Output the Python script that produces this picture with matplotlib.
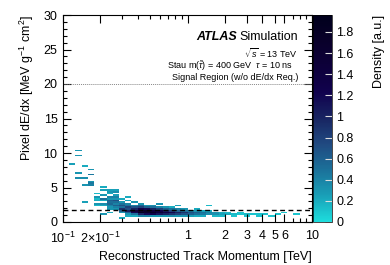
import numpy as np
import matplotlib
matplotlib.use("Agg")
import matplotlib.pyplot as plt
from matplotlib.colors import LinearSegmentedColormap
from matplotlib.ticker import FixedLocator, NullFormatter

plt.rcParams['font.family'] = ['Liberation Sans', 'DejaVu Sans']
plt.rcParams['mathtext.fontset'] = 'custom'
plt.rcParams['mathtext.rm'] = 'Liberation Sans'
plt.rcParams['mathtext.it'] = 'Liberation Sans:italic'

# ---- data: occupied cells of the 2D histogram (momentum [TeV], dE/dx, density) ----
cell_p = [
    0.119,
    0.133, 0.133, 0.133, 0.133,
    0.150, 0.150, 0.150, 0.150,
    0.168, 0.168, 0.168, 0.168, 0.168,
    0.188, 0.188, 0.188, 0.188, 0.188, 0.188,
    0.211, 0.211, 0.211, 0.211, 0.211, 0.211, 0.211, 0.211,
    0.237, 0.237, 0.237, 0.237, 0.237, 0.237, 0.237, 0.237, 0.237, 0.237, 0.237, 0.237,
    0.266, 0.266, 0.266, 0.266, 0.266, 0.266, 0.266, 0.266, 0.266, 0.266, 0.266,
    0.299, 0.299, 0.299, 0.299, 0.299, 0.299, 0.299, 0.299, 0.299,
    0.335, 0.335, 0.335, 0.335, 0.335, 0.335, 0.335, 0.335, 0.335, 0.335,
    0.376, 0.376, 0.376, 0.376, 0.376, 0.376, 0.376, 0.376,
    0.422, 0.422, 0.422, 0.422, 0.422, 0.422, 0.422, 0.422,
    0.473, 0.473, 0.473, 0.473, 0.473, 0.473, 0.473,
    0.531, 0.531, 0.531, 0.531, 0.531, 0.531, 0.531,
    0.596, 0.596, 0.596, 0.596, 0.596, 0.596, 0.596,
    0.668, 0.668, 0.668, 0.668, 0.668, 0.668,
    0.750, 0.750, 0.750, 0.750, 0.750, 0.750,
    0.841, 0.841, 0.841, 0.841, 0.841, 0.841,
    0.944, 0.944, 0.944, 0.944, 0.944,
    1.059, 1.059, 1.059, 1.059,
    1.189, 1.189, 1.189, 1.189, 1.189,
    1.334, 1.334, 1.334, 1.334,
    1.496, 1.496, 1.496, 1.496,
    1.679, 1.679, 1.679,
    1.884, 1.884, 1.884,
    2.11, 2.11,
    2.37, 2.37,
    2.66, 2.66,
    2.99, 2.99,
    3.35,
    3.76, 3.76,
    4.22,
    4.73,
    5.31,
    5.96,
    7.50,
]
cell_dedx = [
    8.25,
    10.4, 9.6, 7.15, 6.4,
    8.0, 6.3, 5.3, 2.9,
    7.6, 6.9, 5.9, 5.55, 5.3,
    4.0, 3.6, 3.35, 3.1, 2.6, 2.35,
    5.1, 4.6, 3.85, 3.35, 3.1, 2.6, 2.35, 1.1,
    4.6, 4.35, 4.1, 3.6, 3.35, 3.1, 2.85, 2.6, 2.35, 2.1, 1.85, 1.35,
    4.6, 4.35, 3.85, 3.6, 3.35, 3.1, 2.85, 2.6, 2.35, 2.1, 1.85,
    3.35, 2.85, 2.6, 2.35, 2.1, 1.85, 1.6, 1.35, 0.6,
    3.6, 3.1, 2.6, 2.35, 2.1, 1.85, 1.6, 1.35, 1.1, 0.85,
    2.85, 2.35, 2.1, 1.85, 1.6, 1.35, 1.1, 0.85,
    2.6, 2.35, 2.1, 1.85, 1.6, 1.35, 1.1, 0.85,
    2.35, 2.1, 1.85, 1.6, 1.35, 1.1, 0.85,
    2.35, 2.1, 1.85, 1.6, 1.35, 1.1, 0.85,
    2.6, 2.1, 1.85, 1.6, 1.35, 1.1, 0.85,
    2.1, 1.85, 1.6, 1.35, 1.1, 0.85,
    2.1, 1.85, 1.6, 1.35, 1.1, 0.85,
    2.35, 1.85, 1.6, 1.35, 1.1, 0.85,
    1.85, 1.6, 1.35, 1.1, 0.85,
    1.6, 1.35, 1.1, 0.85,
    1.85, 1.6, 1.35, 1.1, 0.85,
    1.6, 1.35, 1.1, 0.85,
    2.35, 1.6, 1.35, 1.1,
    1.35, 1.1, 0.85,
    1.35, 1.1, 0.85,
    1.35, 1.1,
    1.1, 0.85,
    1.35, 1.1,
    1.1, 0.85,
    1.1,
    0.85, 1.1,
    1.1,
    0.85,
    1.1,
    1.35,
    1.1,
]
cell_density = [
    0.25,
    0.30, 0.30, 0.30, 0.35,
    0.20, 0.35, 0.30, 0.25,
    0.30, 0.45, 0.30, 0.45, 0.40,
    0.15, 0.30, 0.15, 0.20, 0.30, 0.15,
    0.20, 0.25, 0.30, 0.50, 0.20, 0.35, 0.20, 0.30,
    0.25, 0.30, 0.20, 0.40, 0.30, 0.60, 0.50, 0.55, 0.40, 0.30, 0.30, 0.20,
    0.25, 0.35, 0.25, 0.40, 0.30, 0.70, 0.50, 0.40, 0.60, 0.40, 0.30,
    0.20, 0.30, 0.50, 0.70, 0.50, 0.90, 0.60, 0.30, 0.20,
    0.20, 0.25, 0.40, 0.50, 0.80, 0.70, 1.00, 0.60, 0.30, 0.20,
    0.30, 0.40, 0.70, 1.00, 1.50, 1.20, 0.50, 0.20,
    0.30, 0.60, 0.80, 1.30, 1.60, 1.90, 1.00, 0.40,
    0.30, 0.60, 1.20, 1.80, 1.70, 1.20, 0.40,
    0.35, 0.50, 1.00, 1.50, 1.80, 1.30, 0.30,
    0.30, 0.40, 0.80, 1.30, 1.50, 1.10, 0.30,
    0.30, 0.60, 1.00, 1.30, 1.00, 0.30,
    0.20, 0.50, 0.80, 1.20, 0.90, 0.35,
    0.25, 0.40, 0.60, 1.00, 0.80, 0.30,
    0.30, 0.50, 0.90, 0.70, 0.30,
    0.40, 0.70, 0.60, 0.25,
    0.20, 0.30, 0.60, 0.50, 0.20,
    0.25, 0.50, 0.45, 0.20,
    0.15, 0.20, 0.40, 0.35,
    0.30, 0.35, 0.15,
    0.20, 0.25, 0.15,
    0.15, 0.20,
    0.15, 0.10,
    0.10, 0.10,
    0.15, 0.10,
    0.10,
    0.10, 0.10,
    0.12,
    0.10,
    0.10,
    0.10,
    0.10,
]

x_tick_vals = [0.1, 0.2, 1, 2, 3, 4, 5, 6, 10]
x_tick_labels = [r'$10^{-1}$', r'$2\!\times\!10^{-1}$', '1', '2', '3', '4', '5', '6', '10']
y_tick_vals = [0, 5, 10, 15, 20, 25, 30]
cbar_ticks = [0, 0.2, 0.4, 0.6, 0.8, 1, 1.2, 1.4, 1.6, 1.8]
cbar_labels = ['0', '0.2', '0.4', '0.6', '0.8', '1', '1.2', '1.4', '1.6', '1.8']

# ---- binning ----
xedges = np.logspace(-1, 1, 41)
yedges = np.linspace(0, 30, 121)
H, _, _ = np.histogram2d(cell_p, cell_dedx, bins=[xedges, yedges], weights=cell_density)
H = np.ma.masked_where(H <= 0, H)

# ROOT kDeepSea palette, reversed
stops = [0, .125, .25, .375, .5, .625, .75, .875, 1]
red = [0, 9, 13, 17, 24, 32, 27, 25, 29]
green = [0, 0, 0, 2, 37, 74, 113, 160, 221]
blue = [28, 42, 59, 78, 98, 129, 154, 184, 221]
cols = [(r / 255, g / 255, b / 255) for r, g, b in zip(red, green, blue)][::-1]
cmap = LinearSegmentedColormap.from_list('deepsea_r', list(zip(stops, cols)))

W, Hpx = 390, 265
fig = plt.figure(figsize=(W / 100, Hpx / 100), dpi=100)
ax = fig.add_axes([63 / W, 1 - 222 / Hpx, (312 - 63) / W, (222 - 15) / Hpx])
cax = fig.add_axes([313 / W, 1 - 222 / Hpx, (332 - 313) / W, (222 - 15) / Hpx])

vmax = 1.96
mesh = ax.pcolormesh(xedges, yedges, H.T, cmap=cmap, vmin=0, vmax=vmax, shading='flat')
ax.set_xscale('log')
ax.set_xlim(0.1, 10)
ax.set_ylim(0, 30)

ax.axhline(1.8, color='black', ls=(0, (3.5, 2.5)), lw=1.0)
ax.axhline(20, color='#888888', ls=(0, (1, 1)), lw=0.7)

fs = 9
ax.xaxis.set_major_locator(FixedLocator(x_tick_vals))
ax.set_xticklabels(x_tick_labels)
minor_x = [0.3, 0.4, 0.5, 0.6, 0.7, 0.8, 0.9, 7, 8, 9]
ax.xaxis.set_minor_locator(FixedLocator(minor_x))
ax.xaxis.set_minor_formatter(NullFormatter())
ax.set_yticks(y_tick_vals)
ax.yaxis.set_minor_locator(FixedLocator(np.arange(0, 31, 1)))
ax.tick_params(which='both', direction='in', top=True, right=True, labelsize=fs, width=0.8)
ax.tick_params(which='major', length=6)
ax.tick_params(which='minor', length=3)
ax.tick_params(axis='x', which='major', pad=6)
ax.tick_params(axis='y', which='major', pad=4)
for s in ax.spines.values():
    s.set_linewidth(0.8)

ax.set_xlabel('Reconstructed Track Momentum [TeV]', fontsize=fs, ha='right', x=1.0, labelpad=4)
ax.set_ylabel(r'Pixel dE/dx [MeV g$^{-1}$ cm$^{2}$]', fontsize=fs, ha='right', y=1.0, labelpad=5)

cb = fig.colorbar(mesh, cax=cax)
cb.set_ticks(cbar_ticks)
cb.set_ticklabels(cbar_labels)
cb.outline.set_linewidth(0.5)
cax.tick_params(direction='in', length=5, width=0.8, color='#dddddd', labelsize=fs, pad=3)
cax.minorticks_off()
cax.set_ylabel('Density [a.u.]', fontsize=fs, ha='right', y=1.0, labelpad=14)

tx = 0.945
ax.text(tx - 0.245, 0.893, 'ATLAS', transform=ax.transAxes, fontsize=9, fontweight='bold',
        fontstyle='italic', ha='right', va='center')
ax.text(tx, 0.893, 'Simulation', transform=ax.transAxes, fontsize=9, ha='right', va='center')
ax.text(tx, 0.815, r'$\sqrt{s}$ = 13 TeV', transform=ax.transAxes, fontsize=6.5, ha='right', va='center')
ax.text(tx - 0.02, 0.755, r'Stau m($\tilde{\tau}$) = 400 GeV  $\tau$ = 10 ns', transform=ax.transAxes,
        fontsize=6.5, ha='right', va='center')
ax.text(tx, 0.697, 'Signal Region (w/o dE/dx Req.)', transform=ax.transAxes, fontsize=6.5,
        ha='right', va='center')

fig.savefig('out.png', dpi=100)
